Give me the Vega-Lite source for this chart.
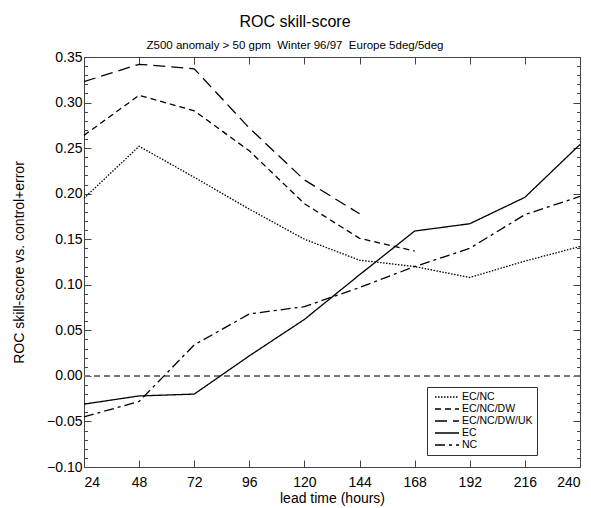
{
  "$schema": "https://vega.github.io/schema/vega-lite/v6.json",
  "width": 496,
  "height": 410,
  "autosize": {"type": "none"},
  "padding": {"left": 84, "top": 57, "right": 11, "bottom": 41},
  "background": "white",
  "title": {
    "text": "ROC skill-score",
    "subtitle": "Z500 anomaly > 50 gpm\u00a0\u00a0Winter 96/97\u00a0\u00a0Europe 5deg/5deg",
    "fontSize": 16,
    "fontWeight": "normal",
    "subtitleFontSize": 11.5,
    "subtitlePadding": 10,
    "offset": -1,
    "dx": -37,
    "color": "black",
    "subtitleColor": "black"
  },
  "config": {
    "font": "Liberation Sans",
    "view": {"stroke": null},
    "axis": {"domainColor": "#444", "tickColor": "#444", "labelColor": "black", "titleColor": "black", "grid": false, "titleFontWeight": "normal"}
  },
  "data": {
    "values": [
      {"series": "EC/NC", "lead": 24, "score": 0.195},
      {"series": "EC/NC", "lead": 48, "score": 0.252},
      {"series": "EC/NC", "lead": 72, "score": 0.218},
      {"series": "EC/NC", "lead": 96, "score": 0.183},
      {"series": "EC/NC", "lead": 120, "score": 0.150},
      {"series": "EC/NC", "lead": 144, "score": 0.127},
      {"series": "EC/NC", "lead": 168, "score": 0.120},
      {"series": "EC/NC", "lead": 192, "score": 0.108},
      {"series": "EC/NC", "lead": 216, "score": 0.126},
      {"series": "EC/NC", "lead": 240, "score": 0.142},
      {"series": "EC/NC/DW", "lead": 24, "score": 0.264},
      {"series": "EC/NC/DW", "lead": 48, "score": 0.308},
      {"series": "EC/NC/DW", "lead": 72, "score": 0.291},
      {"series": "EC/NC/DW", "lead": 96, "score": 0.247},
      {"series": "EC/NC/DW", "lead": 120, "score": 0.189},
      {"series": "EC/NC/DW", "lead": 144, "score": 0.151},
      {"series": "EC/NC/DW", "lead": 168, "score": 0.137},
      {"series": "EC/NC/DW/UK", "lead": 24, "score": 0.323},
      {"series": "EC/NC/DW/UK", "lead": 48, "score": 0.342},
      {"series": "EC/NC/DW/UK", "lead": 72, "score": 0.337},
      {"series": "EC/NC/DW/UK", "lead": 96, "score": 0.272},
      {"series": "EC/NC/DW/UK", "lead": 120, "score": 0.215},
      {"series": "EC/NC/DW/UK", "lead": 144, "score": 0.178},
      {"series": "EC", "lead": 24, "score": -0.031},
      {"series": "EC", "lead": 48, "score": -0.022},
      {"series": "EC", "lead": 72, "score": -0.020},
      {"series": "EC", "lead": 96, "score": 0.022},
      {"series": "EC", "lead": 120, "score": 0.062},
      {"series": "EC", "lead": 144, "score": 0.111},
      {"series": "EC", "lead": 168, "score": 0.159},
      {"series": "EC", "lead": 192, "score": 0.167},
      {"series": "EC", "lead": 216, "score": 0.196},
      {"series": "EC", "lead": 240, "score": 0.254},
      {"series": "NC", "lead": 24, "score": -0.045},
      {"series": "NC", "lead": 48, "score": -0.028},
      {"series": "NC", "lead": 72, "score": 0.034},
      {"series": "NC", "lead": 96, "score": 0.068},
      {"series": "NC", "lead": 120, "score": 0.076},
      {"series": "NC", "lead": 144, "score": 0.097},
      {"series": "NC", "lead": 168, "score": 0.120},
      {"series": "NC", "lead": 192, "score": 0.140},
      {"series": "NC", "lead": 216, "score": 0.177},
      {"series": "NC", "lead": 240, "score": 0.197}
    ]
  },
  "layer": [
    {
      "mark": {"type": "rule", "color": "#777", "strokeWidth": 0.8, "strokeDash": [6, 4]},
      "encoding": {
        "x": {
          "datum": 24, "type": "quantitative",
          "axis": {
            "orient": "top",
            "values": [24, 48, 72, 96, 120, 144, 168, 192, 216, 240],
            "tickSize": -7,
            "labels": false,
            "title": null
          }
        },
        "x2": {"datum": 240},
        "y": {
          "datum": 0, "type": "quantitative",
          "axis": {
            "orient": "right",
            "values": [-0.1, -0.09, -0.08, -0.07, -0.06, -0.05, -0.04, -0.03, -0.02, -0.01, 0, 0.01, 0.02, 0.03, 0.04, 0.05, 0.06, 0.07, 0.08, 0.09, 0.1, 0.11, 0.12, 0.13, 0.14, 0.15, 0.16, 0.17, 0.18, 0.19, 0.2, 0.21, 0.22, 0.23, 0.24, 0.25, 0.26, 0.27, 0.28, 0.29, 0.3, 0.31, 0.32, 0.33, 0.34, 0.35],
            "tickSize": {"condition": {"test": "abs(round(datum.value*100) % 5) == 0", "value": -7}, "value": -3.5},
            "labels": false,
            "title": null
          }
        }
      }
    },
    {
      "mark": {"type": "line", "color": "black", "strokeWidth": 1.3},
      "encoding": {
        "x": {
          "field": "lead", "type": "quantitative",
          "scale": {"domain": [24, 240], "nice": false, "zero": false},
          "axis": {
            "orient": "bottom",
            "values": [24, 48, 72, 96, 120, 144, 168, 192, 216, 240],
            "tickSize": -7,
            "labelFontSize": 14,
            "labelPadding": 15,
            "labelOverlap": false,
            "labelBound": false,
            "title": "lead time (hours)",
            "titleFontSize": 14,
            "titlePadding": 2
          }
        },
        "y": {
          "field": "score", "type": "quantitative",
          "scale": {"domain": [-0.1, 0.35], "nice": false, "zero": false},
          "axis": {
            "orient": "left",
            "values": [-0.1, -0.09, -0.08, -0.07, -0.06, -0.05, -0.04, -0.03, -0.02, -0.01, 0, 0.01, 0.02, 0.03, 0.04, 0.05, 0.06, 0.07, 0.08, 0.09, 0.1, 0.11, 0.12, 0.13, 0.14, 0.15, 0.16, 0.17, 0.18, 0.19, 0.2, 0.21, 0.22, 0.23, 0.24, 0.25, 0.26, 0.27, 0.28, 0.29, 0.3, 0.31, 0.32, 0.33, 0.34, 0.35],
            "labelExpr": "abs(round(datum.value*100) % 5) == 0 ? format(datum.value, '.2f') : ''",
            "tickSize": {"condition": {"test": "abs(round(datum.value*100) % 5) == 0", "value": -7}, "value": -3.5},
            "labelFontSize": 14,
            "labelPadding": 9,
            "labelOverlap": false,
            "labelBound": false,
            "title": "ROC skill-score vs. control+error",
            "titleFontSize": 14,
            "titlePadding": 20
          }
        },
        "strokeDash": {
          "field": "series", "type": "nominal",
          "scale": {
            "domain": ["EC/NC", "EC/NC/DW", "EC/NC/DW/UK", "EC", "NC"],
            "range": [[1.5, 1.5], [6, 4], [12, 6], [1, 0], [10, 4, 3, 4]]
          },
          "legend": {
            "orient": "none",
            "legendX": 343,
            "legendY": 330,
            "title": null,
            "symbolType": "M-2.4,0H2.4",
            "symbolSize": 100,
            "symbolOffset": 10,
            "symbolStrokeWidth": 1.3,
            "symbolStrokeColor": "black",
            "symbolFillColor": "transparent",
            "labelFontSize": 10.5,
            "labelColor": "black",
            "labelOffset": 9,
            "strokeColor": "#333",
            "fillColor": "white",
            "padding": 4,
            "rowPadding": 0
          }
        }
      }
    }
  ],
  "resolve": {"axis": {"x": "independent", "y": "independent"}}
}
